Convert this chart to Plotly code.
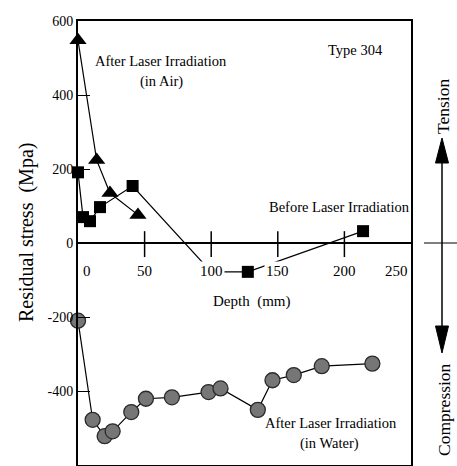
import plotly.graph_objects as go

# ---------------- data ----------------
air_x = [0, 14, 24, 45]
air_y = [548, 224, 135, 76]

before_x = [0, 3.75, 9, 16.5, 41, 127.5, 214]
before_y = [191, 70, 59, 97, 154, -78, 32]
# drawn path of the "before" curve (includes the bend hidden behind the "100" label)
before_line_x = [0, 3.75, 9, 16.5, 41, 100, 127.5, 214]
before_line_y = [191, 70, 59, 97, 154, -78, -78, 32]

water_x = [0, 11, 20, 26, 40, 51, 70.5, 98, 107, 135, 146, 162, 183, 221]
water_y = [-210, -478, -522, -509, -457, -421, -417, -403, -393, -451, -371, -357, -333, -326]

x_ticks = [0, 50, 100, 150, 200, 250]
x_tick_text = ["0", "50", "100", "150", "200", "250"]
y_ticks = [600, 400, 200, 0, -200, -400, -600]
y_tick_text = ["600", "400", "200", "0", "-200", "-400", "-600"]

FONT = "Liberation Serif, DejaVu Serif, serif"

# plot-area geometry in pixels (for decorations outside the axes)
L, R, T, B = 78, 46, 21, 1
W, H = 457, 466
PW, PH = W - L - R, H - T - B


def px(xpix):
    return (xpix - L) / PW


def py(ypix):
    return (H - B - ypix) / PH


fig = go.Figure()

fig.add_trace(go.Scatter(x=before_line_x, y=before_line_y, mode="lines", cliponaxis=False,
                         line=dict(color="black", width=1.2), hoverinfo="skip"))
fig.add_trace(go.Scatter(x=before_x, y=before_y, mode="markers", cliponaxis=False,
                         marker=dict(symbol="square", size=12, color="black")))
fig.add_trace(go.Scatter(x=air_x, y=air_y, mode="lines+markers", cliponaxis=False,
                         line=dict(color="black", width=1.2),
                         marker=dict(symbol="triangle-up", size=15, color="black")))
fig.add_trace(go.Scatter(x=water_x, y=water_y, mode="lines+markers", cliponaxis=False,
                         line=dict(color="black", width=1.2),
                         marker=dict(symbol="circle", size=15, color="#767676",
                                     line=dict(color="#2a2a2a", width=1.3))))

shapes = []
# crossing tick marks on the zero line
for t in x_ticks[1:-1]:
    shapes.append(dict(type="line", xref="x", yref="y", x0=t, x1=t, y0=-38, y1=32,
                       line=dict(color="black", width=1.5)))

# Tension / Compression arrow (outside the plot area, paper coordinates)
ax = 442
shapes.append(dict(type="line", xref="paper", yref="paper", x0=px(ax), x1=px(ax),
                   y0=py(160), y1=py(328), line=dict(color="black", width=1.5)))
shapes.append(dict(type="line", xref="paper", yref="paper", x0=px(424), x1=px(457),
                   y0=py(243), y1=py(243), line=dict(color="black", width=1.2)))
shapes.append(dict(type="path", xref="paper", yref="paper",
                   path=f"M {px(ax)} {py(138)} L {px(ax-6.5)} {py(163)} L {px(ax+6.5)} {py(163)} Z",
                   fillcolor="black", line=dict(color="black", width=1)))
shapes.append(dict(type="path", xref="paper", yref="paper",
                   path=f"M {px(ax)} {py(353)} L {px(ax-6.5)} {py(326)} L {px(ax+6.5)} {py(326)} Z",
                   fillcolor="black", line=dict(color="black", width=1)))

annotations = []
# x tick labels (drawn over the curve, as in the original)
for t, txt in zip(x_ticks, x_tick_text):
    a = dict(x=t, y=-76, xref="x", yref="y", text=txt, showarrow=False,
             font=dict(family=FONT, size=15, color="black"),
             bgcolor="white", borderpad=1, xanchor="center", yanchor="middle")
    if t == 0:
        a.update(xanchor="left", xshift=3, bgcolor="rgba(0,0,0,0)")
    if t == 250:
        a.update(xanchor="right", xshift=-1)
    annotations.append(a)


def note(x, y, text, size=15, **kw):
    d = dict(x=x, y=y, xref="x", yref="y", text=text, showarrow=False,
             font=dict(family=FONT, size=size, color="black"),
             xanchor="center", yanchor="middle")
    d.update(kw)
    annotations.append(d)


note(130, -159, "Depth  (mm)")
note(62.5, 492, "After Laser Irradiation", size=14.5)
note(62.5, 437, "(in Air)", size=14.5)
note(208.5, 521, "Type 304", size=14.5)
note(196, 97, "Before Laser Irradiation", size=14.5)
note(190, -486, "After Laser Irradiation", size=14.5)
note(188.5, -543, "(in Water)", size=14.5)

annotations.append(dict(x=px(26), y=py(233), xref="paper", yref="paper",
                        text="Residual stress  (Mpa)", textangle=-90, showarrow=False,
                        font=dict(family=FONT, size=20, color="black"),
                        xanchor="center", yanchor="middle"))
annotations.append(dict(x=px(443), y=py(107), xref="paper", yref="paper",
                        text="Tension", textangle=-90, showarrow=False,
                        font=dict(family=FONT, size=17.5, color="black"),
                        xanchor="center", yanchor="middle"))
annotations.append(dict(x=px(444), y=py(410), xref="paper", yref="paper",
                        text="Compression", textangle=-90, showarrow=False,
                        font=dict(family=FONT, size=17.5, color="black"),
                        xanchor="center", yanchor="middle"))

fig.update_layout(
    width=W, height=H,
    margin=dict(l=L, r=R, t=T, b=B, pad=0),
    paper_bgcolor="white", plot_bgcolor="white",
    showlegend=False,
    shapes=shapes,
    annotations=annotations,
    xaxis=dict(range=[0, 250], showgrid=False, zeroline=False, showline=True,
               mirror=True, linecolor="black", linewidth=1.5,
               showticklabels=False, ticks=""),
    yaxis=dict(range=[-600, 600], showgrid=False, zeroline=True, zerolinecolor="black",
               zerolinewidth=1.5, showline=True, mirror=True, linecolor="black",
               linewidth=2, tickvals=y_ticks, ticktext=y_tick_text, ticks="inside",
               ticklen=12, tickwidth=1.2, tickcolor="black",
               tickfont=dict(family=FONT, size=14, color="black")),
)

fig.write_html("out.html")
